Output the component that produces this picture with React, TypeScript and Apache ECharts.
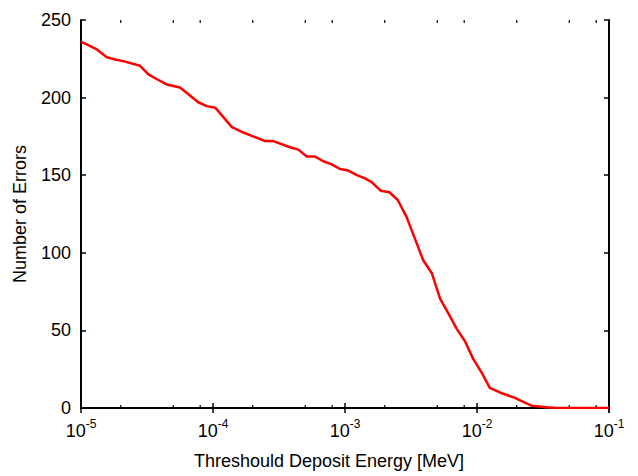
import React, { useEffect, useRef } from "react";
import * as echarts from "echarts";

const energies = [
  1.0e-5, 1.32e-5, 1.57e-5, 1.81e-5, 2.09e-5, 2.8e-5, 3.24e-5, 3.74e-5, 4.46e-5, 5.62e-5,
  7.74e-5, 8.95e-5, 1.04e-4, 1.39e-4, 1.7e-4, 2.48e-4, 2.86e-4, 3.83e-4, 4.43e-4, 5.13e-4,
  5.93e-4, 6.85e-4, 7.93e-4, 9.16e-4, 1.06e-3, 1.23e-3, 1.42e-3, 1.59e-3, 1.87e-3, 2.17e-3,
  2.51e-3, 2.93e-3, 3.39e-3, 3.92e-3, 4.54e-3, 5.25e-3, 6.07e-3, 7.02e-3, 8.11e-3, 9.38e-3,
  1.09e-2, 1.25e-2, 1.49e-2, 1.94e-2, 2.24e-2, 2.59e-2, 3.37e-2, 4.02e-2, 1.0e-1,
];
const errors = [
  236, 231, 226, 224.5, 223.5, 220.5, 215, 212, 208.5, 206.5,
  197, 194.5, 193.5, 181, 177.5, 172, 172, 168, 166.5, 162,
  162, 159, 157, 154, 153, 150, 148, 145.5, 140, 139,
  134, 123, 109, 95, 87, 70.5, 61, 51, 43, 31.5,
  22.5, 13, 10, 6.5, 4, 1.5, 0.5, 0, 0,
];
const minorTicks = [
  2e-5, 5e-5, 8e-5, 2e-4, 5e-4, 8e-4, 2e-3, 5e-3, 8e-3, 2e-2, 5e-2, 8e-2,
];
const xTitle = "Threshould Deposit Energy [MeV]";
const yTitle = "Number of Errors";

const FONT = "'Liberation Sans', Arial, Helvetica, sans-serif";

export default function App() {
  const ref = useRef<HTMLDivElement>(null);
  useEffect(() => {
    if (!ref.current) return;
    const chart = echarts.init(ref.current, undefined, { renderer: "svg" });
    const line = energies.map((e, i) => [e, errors[i]]);
    const xBase = {
      type: "log",
      logBase: 10,
      min: 1e-5,
      max: 1e-1,
      splitNumber: 4,
      axisLine: { show: true, lineStyle: { color: "#000", width: 2 } },
      axisTick: { show: true, inside: true, length: 5, lineStyle: { color: "#000", width: 1.5 } },
      splitLine: { show: false },
      minorTick: { show: false },
    };
    const yBase = {
      type: "value",
      min: 0,
      max: 250,
      interval: 50,
      axisLine: { show: true, lineStyle: { color: "#000", width: 2 } },
      axisTick: { show: true, inside: true, length: 5, lineStyle: { color: "#000", width: 1.5 } },
      splitLine: { show: false },
    };
    chart.setOption({
      animation: false,
      backgroundColor: "#fff",
      grid: { left: 81, right: 29, top: 20, bottom: 68, containLabel: false },
      xAxis: [
        {
          ...xBase,
          position: "bottom",
          name: xTitle,
          nameLocation: "middle",
          nameGap: 44,
          nameTextStyle: { fontFamily: FONT, fontSize: 18, color: "#000", padding: [0, 32, 0, 0] },
          axisLabel: {
            margin: 10,
            fontFamily: FONT,
            color: "#000",
            formatter: (v: number) => `{b|10}{s|${Math.round(Math.log10(v))}}`,
            rich: {
              b: { fontFamily: FONT, fontSize: 18, color: "#000", lineHeight: 22, verticalAlign: "bottom" },
              s: { fontFamily: FONT, fontSize: 12, color: "#000", lineHeight: 22, verticalAlign: "top", padding: [0, 0, 10, 0] },
            },
          },
        },
        {
          ...xBase,
          position: "top",
          axisLabel: { show: false },
        },
      ],
      yAxis: [
        {
          ...yBase,
          position: "left",
          name: yTitle,
          nameLocation: "middle",
          nameGap: 52,
          nameRotate: 90,
          nameTextStyle: { fontFamily: FONT, fontSize: 18, color: "#000" },
          axisLabel: { margin: 10, fontFamily: FONT, fontSize: 18, color: "#000" },
        },
        {
          ...yBase,
          position: "right",
          axisLabel: { show: false },
        },
      ],
      series: [
        {
          type: "line",
          data: line,
          xAxisIndex: 0,
          yAxisIndex: 0,
          showSymbol: false,
          symbol: "none",
          lineStyle: { color: "#ff0000", width: 2.5 },
          z: 3,
        },
        {
          type: "custom",
          xAxisIndex: 0,
          yAxisIndex: 0,
          silent: true,
          z: 2,
          data: minorTicks.map((v) => [v, 0]),
          renderItem: (_p: any, api: any) => {
            const v = api.value(0);
            const b = api.coord([v, 0]);
            const t = api.coord([v, 250]);
            return {
              type: "group",
              children: [
                { type: "line", shape: { x1: b[0], y1: b[1], x2: b[0], y2: b[1] - 3 }, style: { stroke: "#000", lineWidth: 1.2 } },
                { type: "line", shape: { x1: t[0], y1: t[1], x2: t[0], y2: t[1] + 3 }, style: { stroke: "#000", lineWidth: 1.2 } },
              ],
            };
          },
        },
      ],
    });
    return () => chart.dispose();
  }, []);
  return (
    <div
      ref={ref}
      style={{ position: "fixed", left: 0, top: 0, width: 638, height: 476, background: "#fff" }}
    />
  );
}
